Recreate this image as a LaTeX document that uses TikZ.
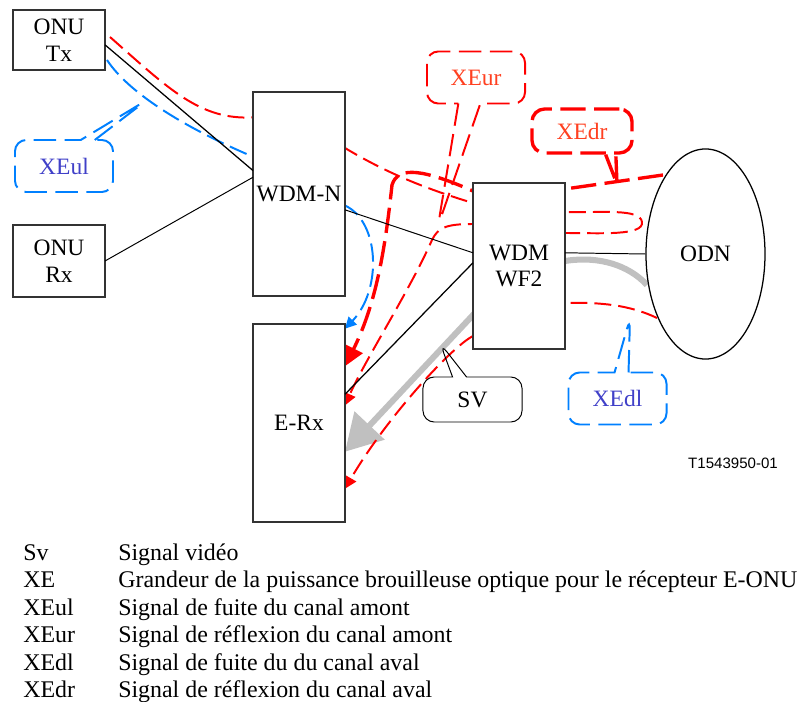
\documentclass[tikz,border=0pt]{standalone}
\usepackage{fontspec}
\setmainfont{Liberation Serif}
\newfontfamily\tagfont{Liberation Sans}
\usepackage{xcolor}
\usetikzlibrary{arrows.meta, positioning, calc, shapes.geometric, shapes.callouts, backgrounds}

\definecolor{sigred}{RGB}{255,0,0}
\definecolor{sigblue}{RGB}{0,128,255}
\definecolor{txtblue}{RGB}{64,64,200}
\definecolor{txtred}{RGB}{255,64,32}
\definecolor{svgray}{RGB}{192,192,192}
\newcommand{\lbl}{\fontsize{16.7}{19}\selectfont}
\newcommand{\keyfont}{\fontsize{17}{19}\selectfont}

\tikzset{
  blk/.style={draw=black!80, line width=0.9pt, fill=white, inner sep=0pt, outer sep=0pt,
    minimum width=2.3cm, align=center, font=\lbl},
  wire/.style={draw=black, line width=0.7pt},
  redthin/.style={draw=sigred, line width=1.4pt, dash pattern=on 12pt off 5pt},
  redthick/.style={draw=sigred, line width=2.4pt, dash pattern=on 18pt off 6pt},
  bluedash/.style={draw=sigblue, line width=1.4pt, dash pattern=on 13pt off 5pt},
  svarrow/.style={draw=svgray, line width=4.3pt, -{Triangle[length=0.9cm, width=1cm]}},
  bubble/.style={rectangle callout, rounded corners=8pt, minimum width=2.45cm,
    minimum height=1.3cm, inner sep=0pt, callout pointer width=0.35cm, font=\lbl},
  longdash/.style={dash pattern=on 16pt off 6pt},
}

\begin{document}
\begin{tikzpicture}[x=0.025cm, y=-0.025cm]
    \useasboundingbox (0,0) rectangle (798,702);

    \node[blk, minimum height=1.5cm] (onutx) at (59,40) {ONU\\Tx};
    \node[blk, minimum height=1.8cm] (onurx) at (59,261) {ONU\\Rx};
    \node[blk, minimum height=5.1cm] (wdmn) at (299,194) {WDM-N};
    \node[blk, minimum height=4.15cm] (wf2) at (519,266) {WDM\\WF2};
    \node[blk, minimum height=4.95cm] (erx) at (299,423) {E-Rx};
    \node[ellipse, draw=black, line width=0.9pt, fill=white, inner sep=0pt,
        minimum width=2.975cm, minimum height=5.25cm, font=\lbl] (odn) at (705.5,254) {ODN};

    \draw[wire, line width=0.9pt] (onutx.-6) -- (wdmn.153);
    \draw[wire] (onurx.east) -- (wdmn.160);
    \draw[wire] (wdmn.-19) -- (wf2.164);
    \draw[wire, line width=0.9pt] (wf2.176) -- (erx.32);
    \draw[wire] (wf2.16) -- (odn.west);

    \begin{scope}[on background layer]
        \draw[svarrow] (647,285) .. controls (610,245) and (530,250) .. (473,315) -- (erx.-32);
        % amont
        \draw[bluedash, -{Triangle[length=8pt, width=8pt]}] (107,60) .. controls (130,95) and (190,130) .. (wdmn.141)
            -- (wdmn.-14) .. controls (380,222) and (382,290) .. (erx.64);
        \draw[redthin, -{Triangle[length=8.5pt, width=8.5pt]}] (110,37) .. controls (170,90) and (200,120) .. (wdmn.121)
            -- (345,148) .. controls (390,175) and (430,190) .. (473,203) -- (565,212)
            .. controls (600,213) and (640,208) .. (642,222) .. controls (644,236) and (600,233) .. (565,233)
            -- (473,224) .. controls (445,224) and (438,228) .. (432,240) .. controls (410,290) and (365,360) .. (erx.21);
        % aval
        \draw[redthick, -{Triangle[length=14pt, width=14pt]}] (663,175) -- (565,189) -- (473,191)
            .. controls (425,170) and (398,165) .. (392,185) .. controls (386,240) and (378,300) .. (erx.51);
        \draw[redthin, -{Triangle[length=8.5pt, width=8.5pt]}] (657,318) .. controls (630,305) and (600,302) .. (565,303)
            -- (473,336) .. controls (450,348) and (385,420) .. (erx.-55);
    \end{scope}

    \node[bubble, bluedash, longdash, text=txtblue, callout absolute pointer={(147,100)}] (xeul) at (64,166) {XEul};
    \node[bubble, redthin, longdash, text=txtred, callout pointer width=0.55cm,
        callout absolute pointer={(438,226)}] (xeur) at (476,77.5) {XEur};
    \node[redthick, rounded corners=9pt, minimum width=2.5cm, minimum height=1.1cm, inner sep=0pt,
        text=txtred, font=\lbl] (xedr) at (582,131) {XEdr};
    \draw[redthick] (xedr.-45) -- (617,184) -- (xedr.-35);
    \node[bubble, bluedash, longdash, text=txtblue, callout absolute pointer={(630,318)}] (xedl) at (617.5,398.5) {XEdl};
    \node[bubble, draw=black, line width=0.7pt, minimum width=2.475cm, minimum height=1.125cm,
        callout absolute pointer={(440,343)}] (sv) at (472.5,399.5) {SV};

    \node[font=\tagfont\fontsize{10.7}{12}\selectfont] (ref) at (733,463) {T1543950-01};

    \foreach \abbr/\desc [count=\i from 0] in {Sv/Signal vidéo,
        XE/Grandeur de la puissance brouilleuse optique pour le récepteur E-ONU,
        XEul/Signal de fuite du canal amont, XEur/Signal de réflexion du canal amont,
        XEdl/Signal de fuite du du canal aval, XEdr/Signal de réflexion du canal aval} {
        \node[anchor=base west, inner sep=0pt, font=\keyfont] (key\i) at (23,{560+27.5*\i}) {\abbr};
        \node[anchor=base west, inner sep=0pt, font=\keyfont] (desc\i) at (118,{560+27.5*\i}) {\desc};
    }
\end{tikzpicture}
\end{document}
